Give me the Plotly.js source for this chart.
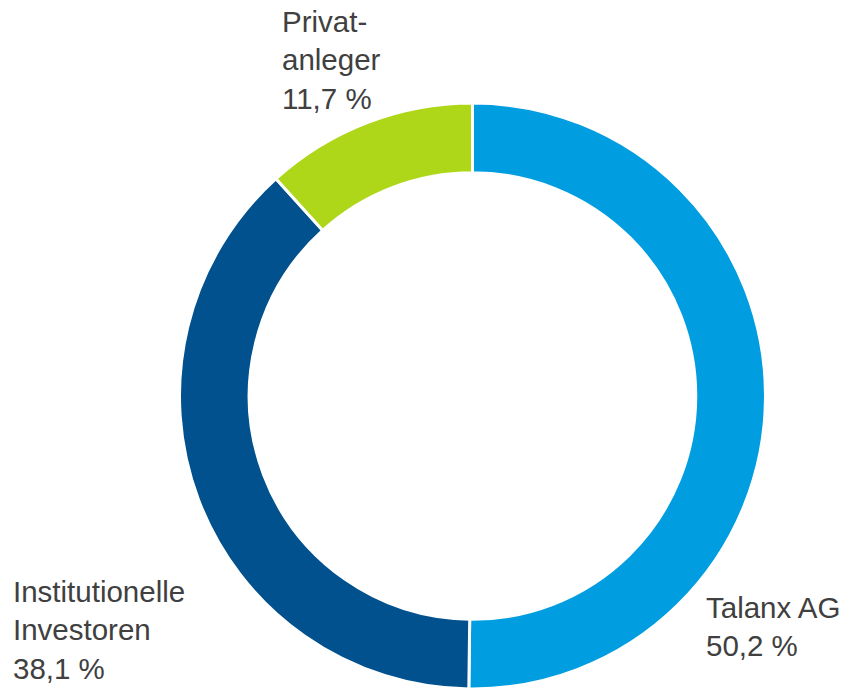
<!DOCTYPE html>
<html>
<head>
<meta charset="utf-8">
<script src="https://cdn.plot.ly/plotly-3.0.1.min.js"></script>
<style>html,body{margin:0;padding:0;background:#fff;}#chart{width:856px;height:689px;}</style>
</head>
<body>
<div id="chart"></div>
<script>
const categories = ["Talanx AG", "Institutionelle Investoren", "Privatanleger"];
const values = [50.2, 38.1, 11.7];
const labelTexts = ["Talanx AG<br>50,2 %", "Institutionelle<br>Investoren<br>38,1 %", "Privat-<br>anleger<br>11,7 %"];
const colors = ["#009EE0", "#00518E", "#AFD71A"];

const labelPos = [
  {x: 704/856, y: 1 - 589/689},
  {x: 11/856, y: 1 - 573/689},
  {x: 280/856, y: 1 - 3/689}
];

const data = [{
  type: 'pie',
  labels: categories,
  values: values,
  sort: false,
  direction: 'clockwise',
  rotation: 0,
  hole: 0.762,
  textinfo: 'none',
  hoverinfo: 'label+percent',
  marker: {colors: colors, line: {color: '#ffffff', width: 3}},
  domain: {x: [179/856, 766/856], y: [0, 586/689]},
  showlegend: false
}];

const annotations = labelTexts.map((t, i) => ({
  text: t,
  xref: 'paper', yref: 'paper',
  x: labelPos[i].x, y: labelPos[i].y,
  xanchor: 'left', yanchor: 'top',
  align: 'left',
  showarrow: false,
  font: {family: 'Liberation Sans, Arial, sans-serif', size: 29.5, color: '#404040'}
}));

const layout = {
  width: 856, height: 689,
  margin: {l: 0, r: 0, t: 0, b: 0},
  paper_bgcolor: '#ffffff',
  annotations: annotations
};

Plotly.newPlot('chart', data, layout, {displayModeBar: false, staticPlot: true});
</script>
</body>
</html>
